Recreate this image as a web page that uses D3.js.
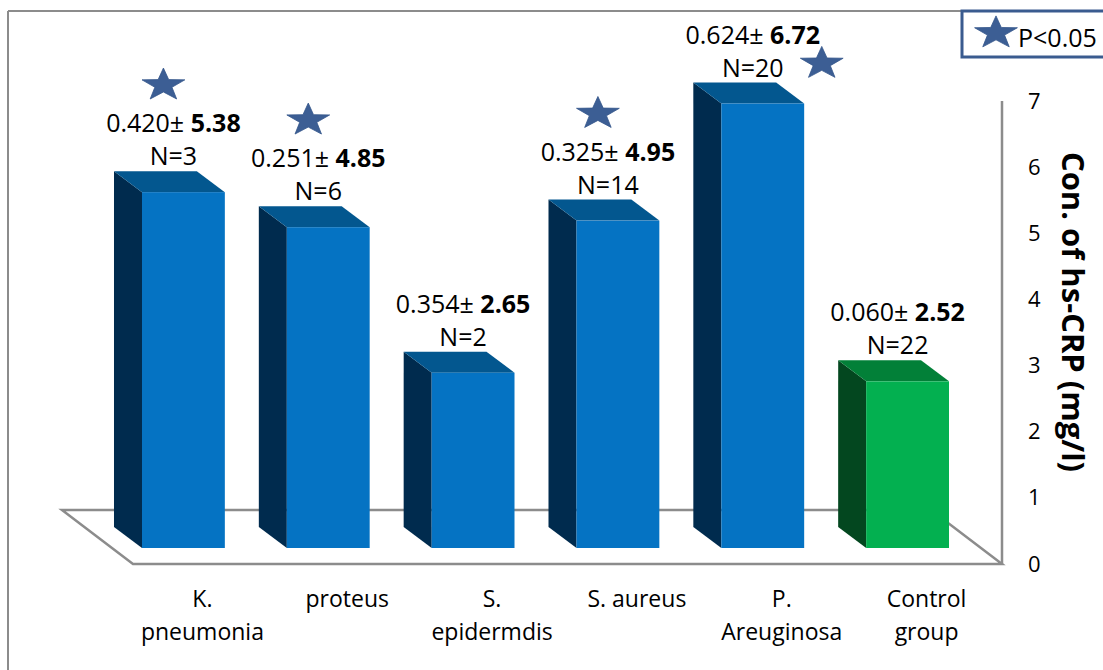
<!DOCTYPE html>
<html>
<head>
<meta charset="utf-8">
<script src="https://cdn.jsdelivr.net/npm/d3@7"></script>
<style>
  html, body { margin: 0; padding: 0; background: #ffffff; }
  svg { display: block; }
  text { font-family: "Open Sans", "Noto Sans", sans-serif; fill: #000; }
</style>
</head>
<body>
<svg id="chart" width="1103" height="670"></svg>
<script>
// hs-CRP concentration by isolated organism
const categoryLines = [
  ["K.", "pneumonia"],
  ["proteus"],
  ["S.", "epidermdis"],
  ["S. aureus"],
  ["P.", "Areuginosa"],
  ["Control", "group"]
];
const meanValues = [5.38, 4.85, 2.65, 4.95, 6.72, 2.52];
const sdValues = [0.420, 0.251, 0.354, 0.325, 0.624, 0.060];
const sampleSizes = [3, 6, 2, 14, 20, 22];
const significant = [true, true, false, true, true, false];
const groupKind = ["patient", "patient", "patient", "patient", "patient", "control"];
const yTickValues = [0, 1, 2, 3, 4, 5, 6, 7];
const axisTitle = "Con. of hs-CRP (mg/l)";
const legendLabel = "P<0.05";

const data = meanValues.map((v, i) => ({
  lines: categoryLines[i], mean: v, sd: sdValues[i], n: sampleSizes[i],
  sig: significant[i], kind: groupKind[i], idx: i
}));

const svg = d3.select("#chart");

// palette for the 3-D columns
const palette = {
  patient: { front: "#0573c3", side: "#002b4e", top: "#03578f" },
  control: { front: "#03b050", side: "#03471f", top: "#028038" }
};
const gridGrey = "#8c8c8c";
const starFill = "#3c5e94";

// projection of the 3-D box
const floorFrontY = 564;
const floorDepth = { dx: 71, dy: 54 };
const barInset = { dx: 22, dy: 16 };     // floor front -> column front face
const barDepth = { dx: 28, dy: 21 };     // column front face -> back face
const floorLeft = 133, floorRight = 1002;

const y = d3.scaleLinear().domain([0, 7]).range([floorFrontY, 101]);
const x = d3.scaleBand()
  .domain(d3.range(data.length))
  .range([floorLeft - barInset.dx, floorRight - barInset.dx])
  .paddingInner(0.428)
  .paddingOuter(0.214);

// outer frame of the chart area
svg.append("line").attr("x1", 8).attr("y1", 11).attr("x2", 8).attr("y2", 670)
  .attr("stroke", gridGrey).attr("stroke-width", 2);
svg.append("line").attr("x1", 8).attr("y1", 11).attr("x2", 962).attr("y2", 11)
  .attr("stroke", gridGrey).attr("stroke-width", 2);

// floor of the 3-D plot
const floorPts = [
  [floorLeft, floorFrontY],
  [floorRight, floorFrontY],
  [floorRight - floorDepth.dx, floorFrontY - floorDepth.dy],
  [floorLeft - floorDepth.dx, floorFrontY - floorDepth.dy]
];
svg.append("polygon")
  .attr("points", floorPts.map(p => p.join(",")).join(" "))
  .attr("fill", "#ffffff")
  .attr("stroke", gridGrey).attr("stroke-width", 2.5)
  .attr("stroke-linejoin", "miter");

// vertical value axis on the right
svg.append("line")
  .attr("x1", floorRight).attr("x2", floorRight)
  .attr("y1", y(7)).attr("y2", y(0))
  .attr("stroke", gridGrey).attr("stroke-width", 2.5);

const axisG = svg.append("g").attr("transform", `translate(${floorRight},0)`);
const yAxis = d3.axisRight(y).tickValues(yTickValues).tickSize(0).tickPadding(26)
  .tickFormat(d3.format("d"));
axisG.call(yAxis);
axisG.select(".domain").remove();
axisG.selectAll(".tick text")
  .attr("font-family", "'Open Sans', sans-serif")
  .attr("font-size", 22).attr("fill", "#000");

svg.append("text")
  .attr("transform", `translate(1062,312) rotate(90)`)
  .attr("text-anchor", "middle")
  .attr("font-size", 31).attr("font-weight", "bold")
  .text(axisTitle);

// 3-D columns
const barBase = d => y(0) - barInset.dy;
const barTop = d => y(d.mean) - barInset.dy;
const bars = svg.append("g").selectAll("g.bar").data(data).join("g").attr("class", "bar");

bars.append("polygon") // left side face
  .attr("points", d => {
    const x0 = x(d.idx), t = barTop(d), b = barBase(d);
    return [[x0, t], [x0 - barDepth.dx, t - barDepth.dy], [x0 - barDepth.dx, b - barDepth.dy], [x0, b]]
      .map(p => p.join(",")).join(" ");
  })
  .attr("fill", d => palette[d.kind].side);

bars.append("polygon") // top face
  .attr("points", d => {
    const x0 = x(d.idx), x1 = x0 + x.bandwidth(), t = barTop(d);
    return [[x0, t], [x1, t], [x1 - barDepth.dx, t - barDepth.dy], [x0 - barDepth.dx, t - barDepth.dy]]
      .map(p => p.join(",")).join(" ");
  })
  .attr("fill", d => palette[d.kind].top);

bars.append("rect") // front face
  .attr("x", d => x(d.idx))
  .attr("y", d => barTop(d))
  .attr("width", x.bandwidth())
  .attr("height", d => barBase(d) - barTop(d))
  .attr("fill", d => palette[d.kind].front);

// value labels: "sd± mean" and "N=n" above each column
const labelCx = d => x(d.idx) + x.bandwidth() / 2 - 10;
const nBaseline = d => barTop(d) - barDepth.dy - 6;
const lineGap = 33;

const labels = svg.append("g").selectAll("g.lbl").data(data).join("g").attr("class", "lbl");
const l1 = labels.append("text")
  .attr("x", labelCx)
  .attr("y", d => nBaseline(d) - lineGap)
  .attr("text-anchor", "middle")
  .attr("font-size", 25);
l1.append("tspan").text(d => d.sd.toFixed(3) + "± ");
l1.append("tspan").attr("font-weight", "bold").text(d => d.mean.toFixed(2));

labels.append("text")
  .attr("x", labelCx)
  .attr("y", nBaseline)
  .attr("text-anchor", "middle")
  .attr("font-size", 25)
  .text(d => "N=" + d.n);

// significance stars
const starPath = (r) => {
  const pts = [];
  for (let k = 0; k < 10; k++) {
    const rad = k % 2 === 0 ? r : r * 0.4;
    const a = -Math.PI / 2 + k * Math.PI / 5;
    pts.push([rad * Math.cos(a), rad * Math.sin(a) * 0.76]);
  }
  return "M" + pts.map(p => p.map(v => v.toFixed(2)).join(",")).join("L") + "Z";
};
const starR = 22.5;
const starTopLimit = 40;

const starPos = d => {
  const above = nBaseline(d) - lineGap - 47;
  if (above - starR * 0.7 < starTopLimit) {
    // no room above the label: place it beside the N line
    return [labelCx(d) + 69, nBaseline(d) - 13];
  }
  return [labelCx(d) - 10, above];
};

svg.append("g").selectAll("path.star").data(data.filter(d => d.sig)).join("path")
  .attr("class", "star")
  .attr("d", starPath(starR))
  .attr("transform", d => `translate(${starPos(d).join(",")})`)
  .attr("fill", starFill)
  .attr("stroke", "#34558a").attr("stroke-width", 0.8);

// category labels under the floor
const catG = svg.append("g").selectAll("text.cat").data(data).join("text")
  .attr("class", "cat")
  .attr("text-anchor", "middle")
  .attr("font-size", 23);
catG.selectAll("tspan").data(d => d.lines.map((t, j) => ({ t, j, d }))).join("tspan")
  .attr("x", o => x(o.d.idx) + x.bandwidth() / 2 + 19)
  .attr("y", o => 607 + o.j * 33)
  .text(o => o.t);

// legend
const lg = svg.append("g");
lg.append("rect").attr("x", 962).attr("y", 11).attr("width", 160).attr("height", 46)
  .attr("fill", "#ffffff").attr("stroke", "#3a5b8f").attr("stroke-width", 3);
lg.append("path").attr("d", starPath(starR))
  .attr("transform", "translate(996,33)")
  .attr("fill", starFill).attr("stroke", "#34558a").attr("stroke-width", 0.8);
lg.append("text").attr("x", 1018).attr("y", 47).attr("font-size", 25).text(legendLabel);
</script>
</body>
</html>
